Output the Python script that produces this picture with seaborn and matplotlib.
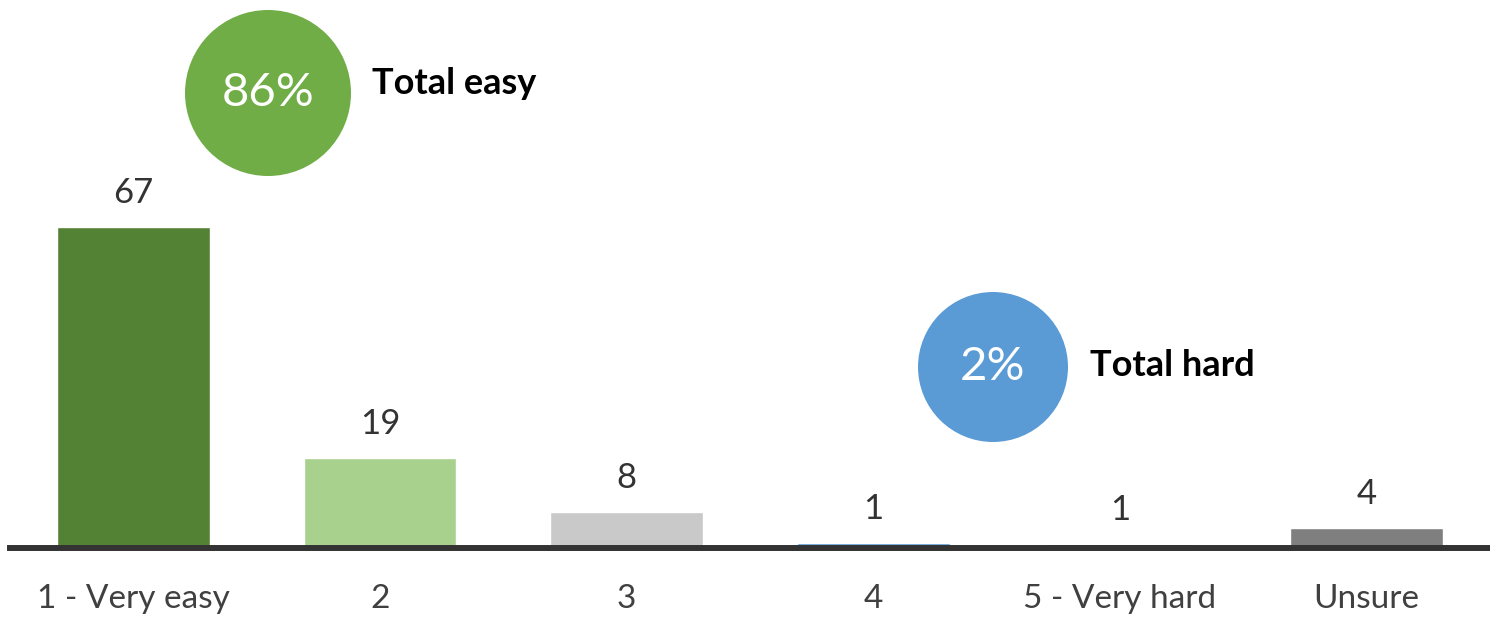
import matplotlib
matplotlib.use("Agg")
import matplotlib.pyplot as plt
import seaborn as sns
import pandas as pd
from matplotlib.patches import Circle

categories = ["1 - Very easy", "2", "3", "4", "5 - Very hard", "Unsure"]
values = [67, 18.8, 7.5, 1.0, 0.9, 4.2]
value_labels = ["67", "19", "8", "1", "1", "4"]
bar_colors = ["#548235", "#A9D18E", "#C9C9C9", "#5B9BD5", "#203864", "#7F7F7F"]
summary_values = ["86%", "2%"]
summary_labels = ["Total easy", "Total hard"]
summary_colors = ["#70AD47", "#5B9BD5"]

sns.set_theme(style="white")
plt.rcParams["font.family"] = ["Lato", "DejaVu Sans"]

df = pd.DataFrame({"cat": categories, "val": values})

fig = plt.figure(figsize=(14.9, 6.17), dpi=100)
ax = fig.add_axes([10 / 1490, 69 / 617, 1480 / 1490, 548 / 617])
sns.barplot(data=df, x="cat", y="val", hue="cat", palette=bar_colors,
            order=categories, hue_order=categories, width=0.62,
            legend=False, ax=ax, saturation=1)

for i, (cont, lab) in enumerate(zip(ax.containers, value_labels)):
    ax.bar_label(cont, labels=[lab], padding=13, fontsize=25, color="#333333")

ax.set_xlim(-0.5, 5.5)
ax.set_ylim(0, 548 / 4.79)
ax.set_xlabel("")
ax.set_ylabel("")
ax.set_yticks([])
for s in ["top", "right", "left"]:
    ax.spines[s].set_visible(False)
ax.spines["bottom"].set_color("#333333")
ax.spines["bottom"].set_linewidth(4.3)
ax.spines["bottom"].set_zorder(5)
ax.tick_params(axis="x", length=0, pad=26, labelsize=24, labelcolor="#404040")

# summary circles
circ_specs = [((2.68, 5.24), 0.83, (3.72, 5.34)), ((9.93, 2.50), 0.75, (10.90, 2.51))]
for (c, r, tpos), val, lab, col in zip(circ_specs, summary_values, summary_labels, summary_colors):
    fig.add_artist(Circle(c, r, transform=fig.dpi_scale_trans, facecolor=col,
                          edgecolor="none", zorder=10))
    fig.text(c[0], c[1], val, transform=fig.dpi_scale_trans, ha="center", va="center",
             fontsize=34, color="white", zorder=11)
    fig.text(tpos[0], tpos[1], lab, transform=fig.dpi_scale_trans, ha="left", va="center",
             fontsize=26, fontweight="bold", color="black", zorder=11)

fig.savefig("out.png", dpi=100, facecolor="white")
